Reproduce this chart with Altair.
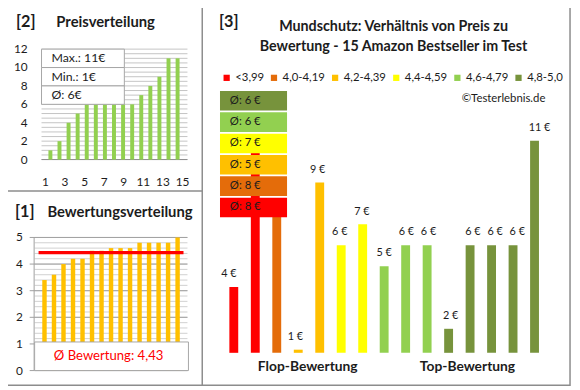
import altair as alt
import pandas as pd
import numpy as np

# ---------------- data ----------------
rank = list(range(1, 16))
prices_sorted = [1, 2, 4, 5, 6, 6, 6, 6, 6, 6, 7, 8, 9, 11, 11]
ratings_sorted = [3.4, 3.6, 4.0, 4.2, 4.2, 4.5, 4.5, 4.6, 4.6, 4.6, 4.8, 4.8, 4.8, 4.8, 5.0]
product_prices = [4, 11, 8, 1, 9, 6, 7, 5, 6, 6, 2, 6, 6, 6, 11]
product_class = ["<3,99", "<3,99", "4,0-4,19", "4,2-4,39", "4,2-4,39",
                 "4,4-4,59", "4,4-4,59", "4,6-4,79", "4,6-4,79", "4,6-4,79",
                 "4,8-5,0", "4,8-5,0", "4,8-5,0", "4,8-5,0", "4,8-5,0"]
classes = ["<3,99", "4,0-4,19", "4,2-4,39", "4,4-4,59", "4,6-4,79", "4,8-5,0"]
class_colors = ["#FF0000", "#E46C0A", "#FFC000", "#FFFF00", "#92D050", "#77933C"]
class_avg_price = [8, 8, 5, 7, 6, 6]
price_stats = ["Max.: 11€", "Min.: 1€", "Ø: 6€"]
rating_avg = 4.43
rating_avg_label = "Ø Bewertung: 4,43"
price_yticks = [0, 2, 4, 6, 8, 10, 12]
price_xticks = [1, 3, 5, 7, 9, 11, 13, 15]
rating_yticks = [0, 1, 2, 3, 4, 5]
title_lines = ["Mundschutz: Verhältnis von Preis zu", "Bewertung - 15 Amazon Bestseller im Test"]
group_labels = ["Flop-Bewertung", "Top-Bewertung"]

# ---------------- layout helpers ----------------
OFF = 8
def X(v): return v - OFF
def Y(v): return v - OFF

FONT = "Lato"
TXT = "#1c1c1c"
FRAME = "#8c8c8c"

def qs(d, r):
    return alt.Scale(domain=d, range=r, nice=False, zero=False)

p2x = qs([1, 15], [X(46), X(185)])
p2y = qs([0, 12], [Y(159), Y(47)])
p1x = qs([1, 15], [X(40), X(185)])
p1y = qs([0, 5], [Y(373), Y(238)])
p3x = qs([1, 15], [X(232), X(547)])
p3y = qs([0.85, 11], [Y(355), Y(140)])

one = pd.DataFrame({"a": [0]})
layers = []

def txt(s, x, y, size, bold=False, align="left", color=TXT):
    return alt.Chart(one).mark_text(
        text=s, font=FONT, fontSize=size, fontWeight="bold" if bold else "normal",
        align=align, baseline="middle", color=color
    ).encode(x=alt.value(X(x)), y=alt.value(Y(y)))

# ---------------- frames ----------------
layers.append(alt.Chart(one).mark_rect(filled=False, stroke=FRAME, strokeWidth=1.5).encode(
    x=alt.value(X(2)), x2=alt.value(X(578)), y=alt.value(Y(1.5)), y2=alt.value(Y(388))))
layers.append(alt.Chart(one).mark_rule(stroke=FRAME, strokeWidth=1.5).encode(
    x=alt.value(X(205)), y=alt.value(Y(1.5)), y2=alt.value(Y(388))))
layers.append(alt.Chart(one).mark_rule(stroke=FRAME, strokeWidth=1.5).encode(
    x=alt.value(X(2)), x2=alt.value(X(205)), y=alt.value(Y(191))))

# ---------------- panel [2] Preisverteilung ----------------
grid2 = pd.DataFrame({"v": np.arange(0, 12.01, 0.5)})
layers.append(alt.Chart(grid2).mark_rule(stroke="#c4c4c4", strokeWidth=1).encode(
    y=alt.Y("v:Q", scale=p2y, axis=None), x=alt.value(X(42)), x2=alt.value(X(190))))
layers.append(alt.Chart(pd.DataFrame({"v": [0]})).mark_rule(stroke="#8c8c8c", strokeWidth=1).encode(
    y=alt.Y("v:Q", scale=p2y, axis=None), x=alt.value(X(42)), x2=alt.value(X(190))))
df2 = pd.DataFrame({"rank": rank, "price": prices_sorted, "base": 0})
layers.append(alt.Chart(df2).mark_bar(size=4, color="#92D050").encode(
    x=alt.X("rank:Q", scale=p2x, axis=None),
    y=alt.Y("price:Q", scale=p2y, axis=None), y2="base:Q"))
stats = pd.DataFrame({"lab": price_stats})
sy = alt.Scale(type="band", domain=price_stats, range=[Y(47), Y(103)], paddingInner=0, paddingOuter=0)
layers.append(alt.Chart(stats).mark_rect(fill="white", stroke="#a6a6a6", strokeWidth=1).encode(
    y=alt.Y("lab:N", scale=sy, axis=None, sort=None), x=alt.value(X(42)), x2=alt.value(X(126))))
layers.append(alt.Chart(stats).mark_text(font=FONT, fontSize=12.5, align="left", baseline="middle", color=TXT).encode(
    y=alt.Y("lab:N", scale=sy, axis=None, sort=None), x=alt.value(X(52)), text="lab:N"))
layers.append(alt.Chart(pd.DataFrame({"t": price_yticks})).mark_text(
    font=FONT, fontSize=12, align="right", baseline="middle", color=TXT).encode(
    y=alt.Y("t:Q", scale=p2y, axis=None), x=alt.value(X(28)), text="t:Q"))
layers.append(alt.Chart(pd.DataFrame({"t": price_xticks})).mark_text(
    font=FONT, fontSize=12, align="center", baseline="middle", color=TXT).encode(
    x=alt.X("t:Q", scale=p2x, axis=None), y=alt.value(Y(182)), text="t:Q"))
layers.append(txt("[2]", 16, 20, 16.5, bold=True))
layers.append(txt("Preisverteilung", 57, 20, 15, bold=True))

# ---------------- panel [1] Bewertungsverteilung ----------------
grid1 = pd.DataFrame({"v": np.arange(0, 5.01, 0.2)})
layers.append(alt.Chart(grid1).mark_rule(stroke="#d0d0d0", strokeWidth=1).encode(
    y=alt.Y("v:Q", scale=p1y, axis=None), x=alt.value(X(35)), x2=alt.value(X(190))))
layers.append(alt.Chart(pd.DataFrame({"t": rating_yticks})).mark_rule(stroke="#a0a0a0", strokeWidth=1).encode(
    y=alt.Y("t:Q", scale=p1y, axis=None), x=alt.value(X(30)), x2=alt.value(X(190))))
layers.append(alt.Chart(one).mark_rule(stroke="#a0a0a0", strokeWidth=1).encode(
    x=alt.value(X(34.5)), y=alt.value(Y(238)), y2=alt.value(Y(373))))
df1 = pd.DataFrame({"rank": rank, "rating": ratings_sorted, "base": 0})
layers.append(alt.Chart(df1).mark_bar(size=4.5, color="#FFC000").encode(
    x=alt.X("rank:Q", scale=p1x, axis=None),
    y=alt.Y("rating:Q", scale=p1y, axis=None), y2="base:Q"))
layers.append(alt.Chart(pd.DataFrame({"v": [rating_avg]})).mark_rule(stroke="#FF0000", strokeWidth=3.5).encode(
    y=alt.Y("v:Q", scale=p1y, axis=None), x=alt.value(X(39)), x2=alt.value(X(186))))
layers.append(alt.Chart(one).mark_rect(fill="white", stroke="#a6a6a6", strokeWidth=1).encode(
    x=alt.value(X(35)), x2=alt.value(X(191)), y=alt.value(Y(344)), y2=alt.value(Y(373))))
layers.append(txt(rating_avg_label, 110, 358, 13.3, align="center", color="#FF0000"))
layers.append(alt.Chart(pd.DataFrame({"t": rating_yticks})).mark_text(
    font=FONT, fontSize=12, align="right", baseline="middle", color=TXT).encode(
    y=alt.Y("t:Q", scale=p1y, axis=None), x=alt.value(X(23)), text="t:Q"))
layers.append(txt("[1]", 15, 212, 16.5, bold=True))
layers.append(txt("Bewertungsverteilung", 48, 212, 15, bold=True))

# ---------------- panel [3] ----------------
cscale = alt.Scale(domain=classes, range=class_colors)
df3 = pd.DataFrame({"pos": rank, "price": product_prices, "cls": product_class, "base": 0.85,
                    "label": [f"{p} €" for p in product_prices]})
layers.append(alt.Chart(df3).mark_bar(size=9).encode(
    x=alt.X("pos:Q", scale=p3x, axis=None),
    y=alt.Y("price:Q", scale=p3y, axis=None), y2="base:Q",
    color=alt.Color("cls:N", scale=cscale, sort=classes, legend=alt.Legend(
        title=None, orient="none", legendX=X(224), legendY=Y(70), direction="horizontal",
        symbolType="square", symbolSize=40, symbolStrokeWidth=0, labelOffset=3,
        columnPadding=4, labelFont=FONT, labelFontSize=11.5, labelColor=TXT, padding=0))))
layers.append(alt.Chart(df3).mark_text(font=FONT, fontSize=11, align="center", baseline="middle",
                                       color=TXT, dy=-13).encode(
    x=alt.X("pos:Q", scale=p3x, axis=None),
    y=alt.Y("price:Q", scale=p3y, axis=None), text="label:N"))

boxes = pd.DataFrame({"cls": classes, "avg": class_avg_price,
                      "label": [f"Ø: {a} €" for a in class_avg_price]})
by = alt.Scale(type="band", domain=classes[::-1], range=[Y(89), Y(218)], paddingInner=0.08, paddingOuter=0.02)
layers.append(alt.Chart(boxes).mark_rect().encode(
    y=alt.Y("cls:N", scale=by, axis=None),
    x=alt.value(X(223)), x2=alt.value(X(291)),
    color=alt.Color("cls:N", scale=cscale, legend=None)))
layers.append(alt.Chart(boxes).mark_text(font=FONT, fontSize=11.5, align="left", baseline="middle", color=TXT).encode(
    y=alt.Y("cls:N", scale=by, axis=None), x=alt.value(X(233)), text="label:N"))

layers.append(txt("[3]", 222, 20, 16.5, bold=True))
layers.append(txt(title_lines[0], 399, 25, 14.5, bold=True, align="center"))
layers.append(txt(title_lines[1], 399, 45, 14.5, bold=True, align="center"))
layers.append(txt("©Testerlebnis.de", 553, 98, 11.5, align="right"))
layers.append(txt(group_labels[0], 312, 369, 14, bold=True, align="center"))
layers.append(txt(group_labels[1], 474, 369, 14, bold=True, align="center"))

chart = alt.layer(*layers).resolve_scale(
    x="independent", y="independent", color="independent"
).properties(
    width=572, height=382, autosize="none", padding=0, background="white"
).configure_view(stroke=None)

chart.save("out.html", embed_options={"renderer": "svg", "actions": False})
